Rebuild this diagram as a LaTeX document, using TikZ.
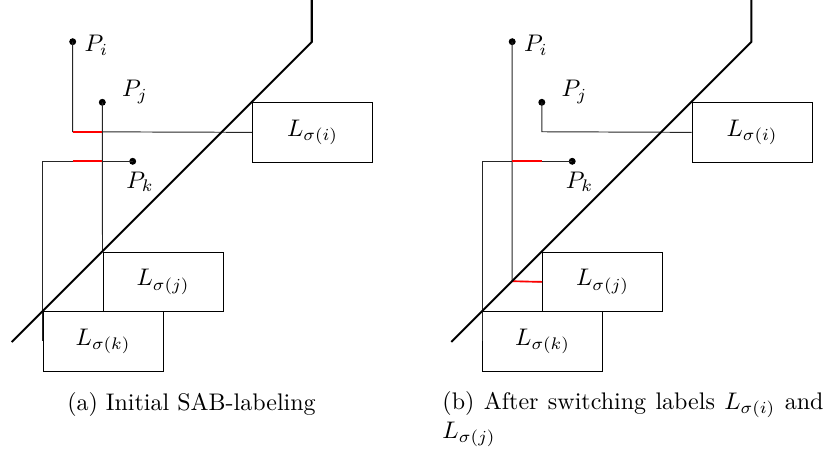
\documentclass[tikz,border=0pt]{standalone}
\begin{document}
\begin{tikzpicture}[x=0.41667pt,y=-0.41667pt,
  thickline/.style={line width=0.85pt, line join=miter},
  labelbox/.style={draw, line width=0.5pt, minimum width=50pt, minimum height=24.8pt, inner sep=0pt, anchor=north west},
  leader/.style={line width=0.4pt, black!85},
  redseg/.style={line width=0.7pt, red},
  pdot/.style={circle, fill, inner sep=0pt, minimum size=2.9pt},
  plabel/.style={anchor=base west, inner sep=0pt}]
\useasboundingbox (0,0) rectangle (824,450);

% ---------- panel (a) ----------
\begin{scope}
  \node[labelbox] (Lia) at (252,102) {$L_{\sigma(i)}$};
  \node[labelbox] (Lja) at (102.5,251.5) {$L_{\sigma(j)}$};
  \node[labelbox] (Lka) at (42.5,311) {$L_{\sigma(k)}$};
  \node[pdot] (Pia) at (72.7,41.7) {};
  \node[pdot] (Pja) at (102.3,102.3) {};
  \node[pdot] (Pka) at (132.7,161.3) {};
  \node[plabel] at ([xshift=4.8pt,yshift=-4.2pt]Pia.center) {$P_i$};
  \node[plabel] at ([xshift=8.1pt,yshift=2.3pt]Pja.center) {$P_j$};
  \node[plabel] at ([xshift=-2.8pt,yshift=-11.2pt]Pka.center) {$P_k$};
  \coordinate (ca1) at (72.7,131.75);
  \coordinate (ca2) at (102.3,131.75);
  \coordinate (ca3) at (72.7,161.3);
  \coordinate (ca4) at (102.3,161.3);
  \coordinate (ca5) at (42.5,161.3);
  \draw[leader] (Pia.center) -- (ca1) -- (Lia.west);
  \draw[leader] (Pja.center) -- (Lja.north west);
  \draw[leader] (Pka.center) -- (ca5) -- (Lka.west);
  \draw[redseg] (ca1) -- (ca2);
  \draw[redseg] (ca3) -- (ca4);
  \coordinate (la1) at (11.75,342);
  \coordinate (la2) at (311.75,42);
  \coordinate (la3) at (311.75,0);
  \draw[thickline] (la1) -- (la2) -- (la3);
\end{scope}

% ---------- panel (b) ----------
\begin{scope}[shift={(439.5,0)}]
  \node[labelbox] (Lib) at (252,102) {$L_{\sigma(i)}$};
  \node[labelbox] (Ljb) at (102.5,251.5) {$L_{\sigma(j)}$};
  \node[labelbox] (Lkb) at (42.5,311) {$L_{\sigma(k)}$};
  \node[pdot] (Pib) at (72.7,41.7) {};
  \node[pdot] (Pjb) at (102.3,102.3) {};
  \node[pdot] (Pkb) at (132.7,161.3) {};
  \node[plabel] at ([xshift=4.8pt,yshift=-4.2pt]Pib.center) {$P_i$};
  \node[plabel] at ([xshift=8.1pt,yshift=2.3pt]Pjb.center) {$P_j$};
  \node[plabel] at ([xshift=-2.8pt,yshift=-11.2pt]Pkb.center) {$P_k$};
  \coordinate (cb1) at (72.7,281.25);
  \coordinate (cb2) at (102.3,131.75);
  \coordinate (cb3) at (72.7,161.3);
  \coordinate (cb4) at (102.3,161.3);
  \coordinate (cb5) at (42.5,161.3);
  \draw[leader] (Pib.center) -- (cb1) -- (Ljb.west);
  \draw[leader] (Pjb.center) -- (cb2) -- (Lib.west);
  \draw[leader] (Pkb.center) -- (cb5) -- (Lkb.west);
  \draw[redseg] (cb3) -- (cb4);
  \draw[redseg] (cb1) -- (Ljb.west);
  \coordinate (lb1) at (11.75,342);
  \coordinate (lb2) at (311.75,42);
  \coordinate (lb3) at (311.75,0);
  \draw[thickline] (lb1) -- (lb2) -- (lb3);
\end{scope}

% ---------- captions ----------
\node[anchor=base, inner sep=0pt] (capa) at (191.5,410) {(a) Initial SAB-labeling};
\node[anchor=north west, inner sep=0pt, text width=158.75pt, align=justify] (capb) at (442,391)
  {(b) After switching labels $L_{\sigma(i)}$ and $L_{\sigma(j)}$};
\end{tikzpicture}
\end{document}
